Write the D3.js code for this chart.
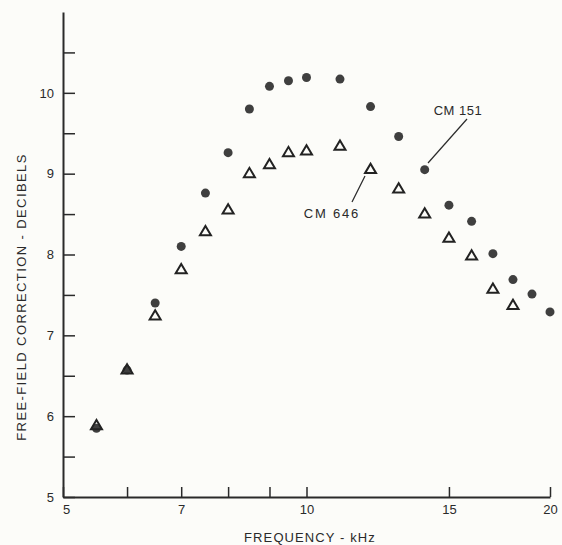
<!DOCTYPE html>
<html><head><meta charset="utf-8">
<script src="https://cdn.jsdelivr.net/npm/d3@7"></script>
<style>
body{margin:0;background:#fcfcf9;}
svg{display:block;}
text{font-family:"Liberation Sans",Arial,sans-serif;fill:#2a2a2a;}
</style></head>
<body>
<svg id="c" width="562" height="545"></svg>
<script>
const freqCM151 = [5.5,6,6.5,7,7.5,8,8.5,9,9.5,10,11,12,13,14,15,16,17,18,19,20];
const valCM151  = [5.85,6.57,7.40,8.10,8.76,9.26,9.80,10.08,10.15,10.19,10.17,9.83,9.46,9.05,8.61,8.41,8.01,7.69,7.51,7.29];
const freqCM646 = [5.5,6,6.5,7,7.5,8,8.5,9,9.5,10,11,12,13,14,15,16,17,18];
const valCM646  = [5.89,6.58,7.25,7.82,8.29,8.56,9.01,9.12,9.27,9.29,9.35,9.06,8.82,8.51,8.21,7.99,7.58,7.38];
const xTicks = [5,6,7,8,9,10,15,20];
const xLabels = [5,7,10,15,20];
const yTicks = [5,5.5,6,6.5,7,7.5,8,8.5,9,9.5,10,10.5];
const yLabels = [5,6,7,8,9,10];

const svg = d3.select("#c");
const x = d3.scaleLog().domain([5,20]).range([63,550]);
const y = d3.scaleLinear().domain([5,11]).range([497,12]);
const ink = "#2a2a2a";

const gx = svg.append("g").attr("transform","translate(0,497)")
  .call(d3.axisBottom(x).tickValues(xTicks).tickSizeInner(-10).tickSizeOuter(0).tickPadding(8)
    .tickFormat(d => xLabels.includes(d) ? String(d) : ""));
const gy = svg.append("g").attr("transform","translate(63,0)")
  .call(d3.axisLeft(y).tickValues(yTicks).tickSizeInner(-12).tickSizeOuter(0).tickPadding(9)
    .tickFormat(d => yLabels.includes(d) ? String(d) : ""));
[gx,gy].forEach(g=>{
  g.select(".domain").attr("stroke",ink).attr("stroke-width",2);
  g.selectAll(".tick line").attr("stroke",ink).attr("stroke-width",1.5);
  g.selectAll(".tick text").attr("fill",ink).style("font-size","13px").style("font-family","'Liberation Sans',Arial,sans-serif");
});
gx.selectAll(".tick text").filter(d=>d===5).attr("dx",3);

// circles CM 151
svg.append("g").selectAll("circle").data(freqCM151.map((f,i)=>[f,valCM151[i]])).join("circle")
  .attr("cx",d=>x(d[0])).attr("cy",d=>y(d[1])).attr("r",4.5).attr("fill","#3f3f3f");

// triangles CM 646
svg.append("g").selectAll("path").data(freqCM646.map((f,i)=>[f,valCM646[i]])).join("path")
  .attr("d",d=>{const cx=x(d[0]),cy=y(d[1]);return `M${cx-5.5},${cy+4.3}L${cx+5.5},${cy+4.3}L${cx},${cy-5}Z`;})
  .attr("fill","none").attr("stroke","#222").attr("stroke-width",2).attr("stroke-linejoin","miter");

// annotations
svg.append("text").attr("x",458).attr("y",115).attr("text-anchor","middle")
  .style("font-size","13px").style("letter-spacing","0.5px").text("CM 151");
svg.append("line").attr("x1",467).attr("y1",119).attr("x2",428).attr("y2",163)
  .attr("stroke",ink).attr("stroke-width",1.2);
svg.append("text").attr("x",332).attr("y",217.5).attr("text-anchor","middle")
  .style("font-size","13px").style("letter-spacing","1.8px").text("CM 646");
svg.append("line").attr("x1",365).attr("y1",176).attr("x2",352).attr("y2",202)
  .attr("stroke",ink).attr("stroke-width",1.2);

// axis titles
svg.append("text").attr("x",310).attr("y",542).attr("text-anchor","middle")
  .style("font-size","13px").style("letter-spacing","1.1px").text("FREQUENCY - kHz");
svg.append("text").attr("transform","translate(26,297) rotate(-90)").attr("text-anchor","middle")
  .style("font-size","13px").style("letter-spacing","1.4px").text("FREE-FIELD CORRECTION - DECIBELS");
</script>
</body></html>
